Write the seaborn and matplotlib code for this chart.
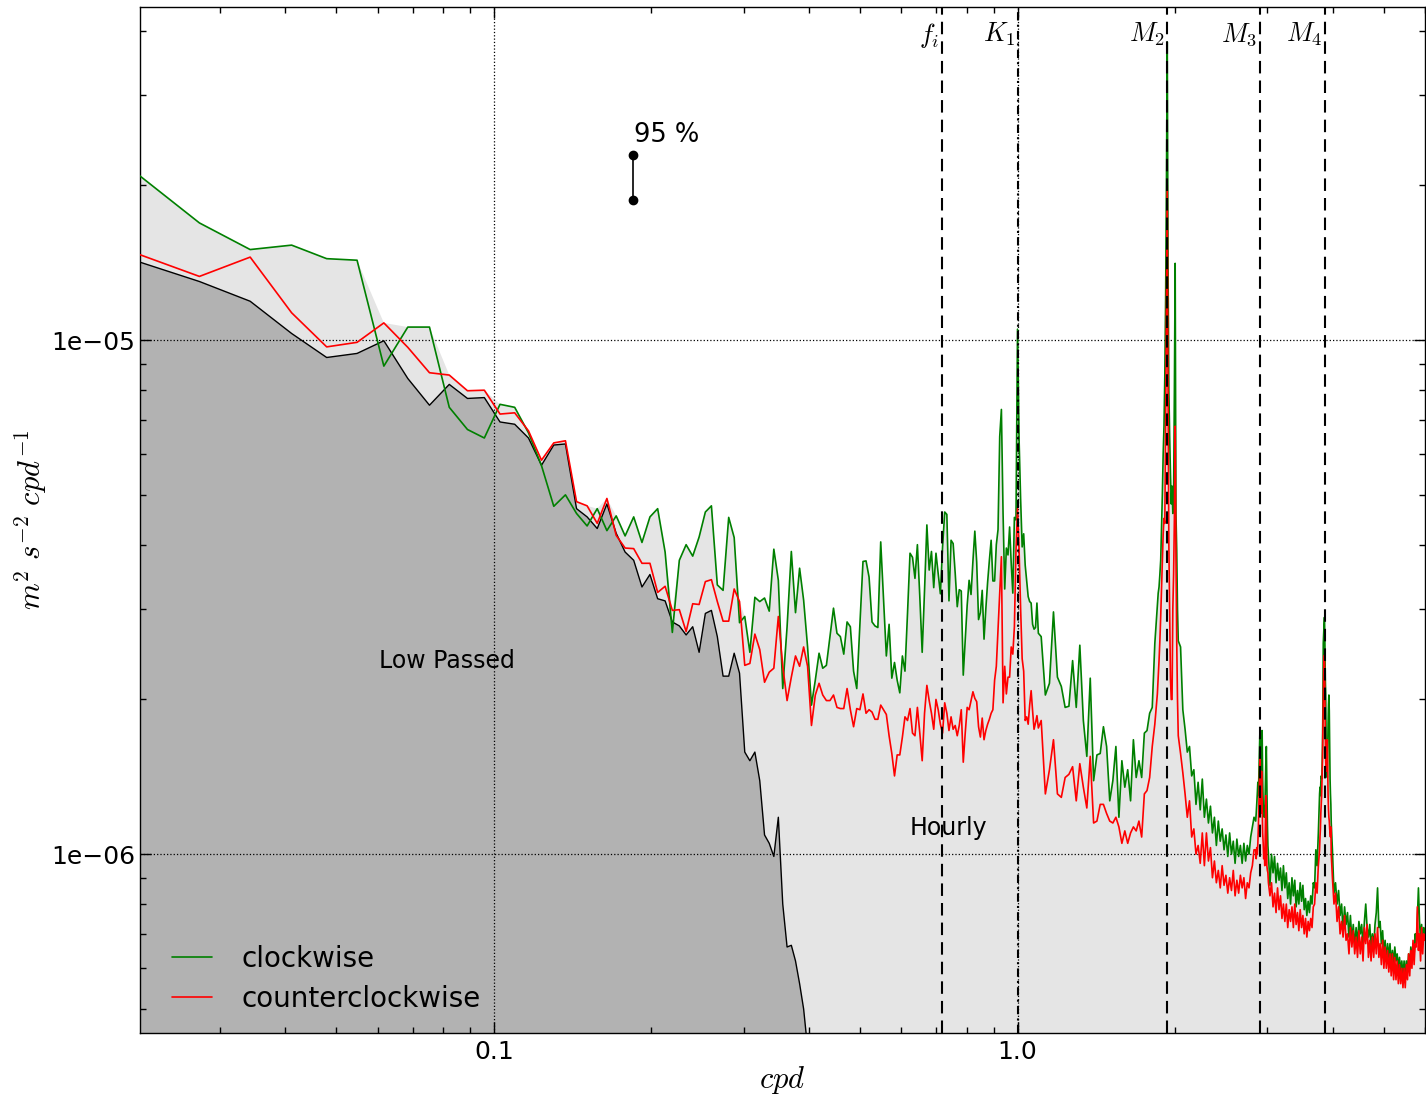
import numpy as np
import matplotlib
matplotlib.use("Agg")
import matplotlib.pyplot as plt
import seaborn as sns
from matplotlib.ticker import FixedLocator, FixedFormatter, LogLocator, NullFormatter

# ---------------- data ----------------
DF = 0.00685  # spectral resolution (cpd)
# frequency index segments (start, stop, step): dense at low freq and around tidal peaks
K_SEGMENTS = [(3, 161, 1), (162, 268, 3), (270, 297, 1), (299, 414, 3),
              (416, 441, 1), (443, 549, 3), (551, 581, 1), (583, 876, 4)]

# clockwise spectrum, units of 1e-6 m^2 s^-2 cpd^-1
cw_seg1 = [21.3, 16.9, 15.0, 15.3, 14.4, 14.3, 8.9, 10.6, 10.6, 7.4,
           6.7, 6.45, 7.5, 7.4, 6.6, 5.7, 4.75, 5.0, 4.6, 4.35,
           4.7, 4.26, 4.55, 4.16, 4.53, 4.04, 4.53, 4.70, 3.87, 2.70,
           3.73, 4.00, 3.80, 4.14, 4.63, 4.76, 3.34, 3.26, 4.52, 4.13,
           2.82, 2.90, 2.47, 3.16, 3.10, 3.15, 2.97, 3.92, 3.41, 2.10,
           2.77, 3.88, 2.95, 3.60, 3.12, 2.53, 1.95, 2.18, 2.46, 2.30,
           2.33, 2.65, 3.01, 2.69, 2.65, 2.45, 2.83, 2.77, 2.27, 2.10,
           2.80, 3.71, 3.72, 3.46, 2.83, 2.78, 2.76, 4.05, 3.12, 2.43,
           2.80, 2.20, 2.36, 2.18, 2.06, 2.43, 2.27, 2.94, 3.85, 3.78,
           3.44, 4.00, 3.17, 2.47, 3.26, 4.37, 3.57, 3.88, 3.30, 3.85,
           3.52, 3.21, 3.96, 4.63, 4.58, 3.11, 4.08, 4.02, 3.52, 3.03,
           3.27, 3.25, 2.23, 2.60, 3.05, 3.41, 3.20, 3.72, 4.25, 3.70,
           2.86, 2.95, 3.26, 2.62, 3.00, 3.38, 3.73, 4.08, 3.40, 3.40,
           4.00, 4.28, 6.49, 7.33, 4.60, 3.28, 3.94, 3.82, 4.33, 3.68,
           3.22, 4.52, 4.47, 10.5, 6.40, 4.90, 3.96, 4.20, 3.65, 3.40,
           3.17, 3.10, 3.08, 2.80, 2.74, 2.76, 3.08, 2.69]
cw_seg2 = [2.65, 2.04, 2.15, 2.96, 2.21, 2.12, 1.93, 1.94, 2.38, 1.93,
           2.55, 1.82, 1.55, 2.20, 1.39, 1.56, 1.57, 1.77, 1.62, 1.27,
           1.39, 1.62, 1.18, 1.52, 1.35, 1.46, 1.27, 1.67, 1.41, 1.52,
           1.41, 1.72, 1.74, 1.88, 1.93, 2.57]
cw_seg3 = [3.03, 3.22, 3.31, 3.5, 3.73, 4.3, 5.0, 6.0, 6.8, 8.5,
           12.0, 20.0, 38.0, 14.0, 8.0, 6.5, 5.5, 4.8, 5.2, 4.6,
           5.0, 8.0, 14.1, 4.6, 3.9, 3.0, 2.6]
cw_seg4 = [2.53, 1.91, 1.75, 1.58, 1.62, 1.42, 1.46, 1.25, 1.38, 1.22,
           1.40, 1.18, 1.28, 1.15, 1.24, 1.10, 1.18, 1.04, 1.16, 1.06,
           1.12, 1.02, 1.09, 0.99, 1.10, 1.00, 1.06, 0.96, 1.07, 0.99,
           1.04, 0.96, 1.05, 0.97, 1.04, 1.00, 1.08, 1.13, 1.18]
cw_seg5 = [1.16, 1.20, 1.25, 1.31, 1.38, 1.30, 1.45, 1.60, 1.76, 1.40,
           1.55, 1.70, 1.74, 1.40, 1.25, 1.22, 1.18, 1.20, 1.35, 1.50,
           1.62, 1.35, 1.15, 1.04, 1.00]
cw_seg6 = [0.87, 1.00, 0.92, 0.99, 0.88, 0.96, 0.89, 0.94, 0.85, 0.95,
           0.86, 0.92, 0.82, 0.88, 0.80, 0.90, 0.83, 0.89, 0.79, 0.85,
           0.80, 0.88, 0.81, 0.87, 0.78, 0.82, 0.76, 0.81, 0.77, 0.83,
           0.80, 0.88, 0.86, 1.02, 0.95, 1.10]
cw_seg7 = [1.31, 1.35, 1.30, 1.38, 1.42, 1.40, 1.44, 1.60, 1.90, 2.57,
           2.70, 2.80, 2.89, 2.60, 2.20, 2.05, 1.70, 1.50, 1.45, 1.41,
           1.60, 1.80, 1.95, 2.04, 1.90, 1.60, 1.40, 1.31, 1.25, 1.15]
cw_seg8 = [1.02, 0.84, 0.88, 0.80, 0.85, 0.76, 0.80, 0.71, 0.79, 0.73,
           0.77, 0.69, 0.76, 0.68, 0.73, 0.66, 0.72, 0.67, 0.74, 0.70,
           0.73, 0.66, 0.74, 0.80, 0.72, 0.69, 0.73, 0.66, 0.70, 0.66,
           0.73, 0.77, 0.86, 0.72, 0.74, 0.67, 0.71, 0.64, 0.68, 0.62,
           0.67, 0.63, 0.67, 0.61, 0.65, 0.61, 0.66, 0.62, 0.64, 0.60,
           0.63, 0.59, 0.62, 0.58, 0.62, 0.58, 0.62, 0.59, 0.64, 0.60,
           0.66, 0.62, 0.67, 0.64, 0.70, 0.67, 0.75, 0.86, 0.74, 0.68,
           0.73, 0.67, 0.72, 0.70]

# counterclockwise spectrum, units of 1e-6
ccw_seg1 = [14.8, 13.3, 14.5, 11.3, 9.70, 9.90, 10.8, 9.68, 8.64, 8.55,
            7.97, 7.99, 7.18, 7.22, 6.66, 5.84, 6.31, 6.37, 4.85, 4.76,
            4.40, 4.92, 4.17, 3.94, 3.93, 3.68, 3.68, 3.23, 3.32, 2.98,
            2.99, 2.71, 3.07, 3.06, 3.39, 3.42, 3.10, 2.84, 2.84, 3.28,
            3.10, 2.33, 2.35, 2.68, 2.50, 2.16, 2.26, 2.30, 2.90, 2.32,
            1.99, 2.21, 2.43, 2.32, 2.53, 2.32, 1.78, 2.04, 2.15, 2.04,
            1.99, 1.99, 2.04, 1.93, 1.92, 1.92, 2.10, 1.91, 1.77, 1.92,
            1.91, 2.05, 1.88, 1.91, 1.89, 1.83, 1.83, 1.95, 1.91, 1.87,
            1.70, 1.57, 1.42, 1.56, 1.56, 1.69, 1.85, 1.82, 1.92, 1.72,
            1.70, 1.93, 1.72, 1.52, 1.88, 2.13, 1.99, 1.88, 1.75, 2.00,
            1.91, 1.79, 1.72, 1.97, 1.88, 1.74, 1.85, 1.75, 1.78, 1.70,
            1.78, 1.91, 1.51, 1.72, 1.93, 1.91, 1.99, 2.07, 2.01, 1.98,
            1.77, 1.69, 1.84, 1.67, 1.74, 1.79, 1.83, 1.88, 1.91, 2.18,
            2.32, 2.73, 3.20, 3.79, 1.97, 2.32, 2.05, 2.21, 2.21, 2.53,
            2.45, 2.77, 3.90, 4.70, 3.90, 3.00, 2.40, 2.27, 1.82, 1.85,
            1.79, 1.95, 2.08, 1.90, 1.75, 1.80, 1.86, 1.76]
ccw_seg2 = [1.82, 1.31, 1.46, 1.67, 1.31, 1.29, 1.41, 1.43, 1.48, 1.27,
            1.50, 1.35, 1.23, 1.55, 1.15, 1.16, 1.25, 1.25, 1.20, 1.16,
            1.15, 1.18, 1.13, 1.05, 1.11, 1.05, 1.10, 1.13, 1.11, 1.16,
            1.08, 1.31, 1.33, 1.41, 1.62, 1.79]
ccw_seg3 = [2.05, 2.2, 2.38, 2.6, 2.9, 3.3, 3.8, 4.2, 4.5, 4.4,
            7.0, 12.0, 20.0, 8.0, 4.0, 3.0, 2.2, 2.0, 2.0, 3.0,
            3.5, 4.5, 6.8, 3.8, 2.6, 2.0, 1.7]
ccw_seg4 = [1.57, 1.44, 1.31, 1.18, 1.27, 1.08, 1.12, 1.00, 1.04, 0.96,
            1.10, 0.95, 1.10, 0.97, 1.03, 0.90, 0.97, 0.88, 0.93, 0.86,
            0.95, 0.87, 0.91, 0.84, 0.90, 0.85, 0.93, 0.83, 0.89, 0.84,
            0.91, 0.86, 0.90, 0.82, 0.88, 0.86, 0.92, 0.95, 1.02]
ccw_seg5 = [1.02, 0.98, 1.03, 1.00, 1.05, 1.13, 1.25, 1.40, 1.59, 1.20,
            1.30, 1.45, 1.27, 1.10, 1.05, 0.98, 1.02, 0.95, 1.10, 1.30,
            1.20, 0.95, 0.93, 0.92, 0.88]
ccw_seg6 = [0.83, 0.88, 0.79, 0.84, 0.77, 0.86, 0.78, 0.83, 0.75, 0.80,
            0.74, 0.80, 0.72, 0.78, 0.74, 0.79, 0.72, 0.80, 0.73, 0.77,
            0.71, 0.78, 0.72, 0.76, 0.70, 0.75, 0.69, 0.74, 0.71, 0.75,
            0.72, 0.79, 0.80, 0.88, 0.84, 0.95]
ccw_seg7 = [1.02, 1.08, 1.12, 1.20, 1.25, 1.30, 1.40, 1.52, 1.75, 2.00,
            2.25, 2.42, 2.44, 2.10, 1.70, 1.52, 1.45, 1.55, 1.62, 1.67,
            1.45, 1.30, 1.22, 1.18, 1.16, 1.12, 1.10, 1.08, 1.13, 1.00]
ccw_seg8 = [0.90, 0.80, 0.84, 0.74, 0.79, 0.70, 0.74, 0.69, 0.76, 0.68,
            0.70, 0.64, 0.72, 0.66, 0.71, 0.64, 0.69, 0.63, 0.71, 0.64,
            0.69, 0.62, 0.72, 0.67, 0.73, 0.63, 0.68, 0.62, 0.69, 0.63,
            0.70, 0.64, 0.72, 0.63, 0.67, 0.61, 0.68, 0.60, 0.66, 0.60,
            0.65, 0.59, 0.64, 0.58, 0.64, 0.57, 0.63, 0.57, 0.62, 0.56,
            0.61, 0.56, 0.60, 0.55, 0.60, 0.55, 0.61, 0.57, 0.64, 0.58,
            0.65, 0.60, 0.68, 0.61, 0.67, 0.66, 0.79, 0.65, 0.70, 0.62,
            0.72, 0.64, 0.70, 0.68]

# low-passed spectrum (k = 3 .. 60), units of 1e-6
lp_psd = [14.3, 13.0, 11.9, 10.3, 9.25, 9.42, 9.97, 8.42, 7.47, 8.20,
          7.70, 7.73, 6.93, 6.86, 6.45, 5.71, 6.25, 6.28, 4.70, 4.53,
          4.30, 4.80, 4.21, 3.87, 3.73, 3.31, 3.50, 3.14, 3.11, 2.83,
          2.78, 2.67, 2.77, 2.47, 2.94, 2.98, 2.65, 2.22, 2.22, 2.46,
          2.25, 1.58, 1.52, 1.58, 1.39, 1.09, 1.05, 0.99, 1.18, 0.80,
          0.66, 0.665, 0.62, 0.56, 0.50, 0.42, 0.35, 0.30]
LP_K = (3, 61)

# tidal / inertial frequencies (cpd)
line_freqs = [0.719, 1.0027, 1.9323, 2.8984, 3.8645]
line_labels = [r"$f_i$", r"$K_1$", r"$M_2$", r"$M_3$", r"$M_4$"]
line_styles = [(0, (6, 3.4)), (0, (4, 2, 1, 2)), (0, (6, 3.4)), (0, (6, 3.4)), (0, (6, 3.4))]

# 95 % confidence bar
ci_freq = 0.1841
ci_low, ci_high = 1.87e-5, 2.29e-5

# ---------------- assemble ----------------
k_all = np.concatenate([np.arange(a, b, s) for a, b, s in K_SEGMENTS])
freq = k_all * DF
cw = np.array(cw_seg1 + cw_seg2 + cw_seg3 + cw_seg4 + cw_seg5 + cw_seg6 + cw_seg7 + cw_seg8) * 1e-6
ccw = np.array(ccw_seg1 + ccw_seg2 + ccw_seg3 + ccw_seg4 + ccw_seg5 + ccw_seg6 + ccw_seg7 + ccw_seg8) * 1e-6
freq_lp = np.arange(*LP_K) * DF
lp = np.array(lp_psd) * 1e-6
hourly = np.maximum(cw, ccw)

# ---------------- plot ----------------
sns.set_style("ticks")
plt.rcParams["font.family"] = ["DejaVu Sans"]
plt.rcParams["mathtext.fontset"] = "cm"
for key in ["text.color", "axes.labelcolor", "xtick.color", "ytick.color", "axes.edgecolor"]:
    plt.rcParams[key] = "black"

fig = plt.figure(figsize=(14.26, 11.0), dpi=100)
ax = fig.add_axes([140 / 1426, 67 / 1100, 1285 / 1426, 1026 / 1100])
ax.set_xscale("log")
ax.set_yscale("log")

ax.fill_between(freq, hourly, 1e-9, color="#e5e5e5", lw=0, zorder=1)
ax.fill_between(freq_lp, lp, 1e-9, color="#b2b2b2", lw=0, zorder=1.2)

sns.lineplot(x=freq, y=cw, ax=ax, color="green", lw=1.2, estimator=None, sort=False,
             label="clockwise", zorder=4)
sns.lineplot(x=freq, y=ccw, ax=ax, color="red", lw=1.2, estimator=None, sort=False,
             label="counterclockwise", zorder=4.5)
sns.lineplot(x=freq_lp, y=lp, ax=ax, color="black", lw=1.0, estimator=None, sort=False,
             legend=False, zorder=3.5)

for f, lab, ls in zip(line_freqs, line_labels, line_styles):
    ax.axvline(f, color="black", lw=1.5, ls=ls, zorder=5)
    ax.annotate(lab, xy=(f, 1.0), xycoords=("data", "axes fraction"),
                xytext=(-2, -10), textcoords="offset points",
                ha="right", va="top", fontsize=19, color="black")

ax.plot([ci_freq, ci_freq], [ci_low, ci_high], color="black", lw=1.2,
        marker="o", ms=6, zorder=6)
ax.text(0.185, 2.43e-5, "95 %", fontsize=18.5, ha="left", va="baseline", color="black")
ax.text(0.0603, 2.30e-6, "Low Passed", fontsize=17, ha="left", va="baseline", color="black")
ax.text(0.622, 1.09e-6, "Hourly", fontsize=17, ha="left", va="baseline", color="black")

ax.set_xlim(0.0211, 6.0)
ax.set_ylim(4.49e-7, 4.445e-5)

ax.xaxis.set_major_locator(FixedLocator([0.1, 1.0]))
ax.xaxis.set_major_formatter(FixedFormatter(["0.1", "1.0"]))
ax.xaxis.set_minor_locator(LogLocator(base=10, subs=np.arange(2, 10)))
ax.xaxis.set_minor_formatter(NullFormatter())
ax.yaxis.set_major_locator(FixedLocator([1e-6, 1e-5]))
ax.yaxis.set_major_formatter(FixedFormatter(["1e\u221206", "1e\u221205"]))
ax.yaxis.set_minor_locator(LogLocator(base=10, subs=np.arange(2, 10)))
ax.yaxis.set_minor_formatter(NullFormatter())

ax.tick_params(which="both", direction="in", top=True, right=True, colors="black")
ax.tick_params(which="major", length=8, width=1, labelsize=18)
ax.tick_params(axis="x", which="major", pad=5)
ax.tick_params(axis="y", which="major", pad=3.5)
ax.tick_params(which="minor", length=4, width=1)
ax.grid(True, which="major", ls=":", color="black", lw=0.9)
ax.set_axisbelow(False)
for s in ax.spines.values():
    s.set_color("black")
    s.set_linewidth(1.0)

ax.set_xlabel(r"$cpd$", fontsize=22, color="black")
ax.set_ylabel(r"$m^2\ s^{-2}\ cpd^{-1}$", fontsize=22, color="black")
ax.xaxis.set_label_coords(0.5, -0.03)
ax.yaxis.set_label_coords(-0.071, 0.5)

handles, labels = ax.get_legend_handles_labels()
leg = ax.legend(handles[:2], labels[:2], loc="lower left", bbox_to_anchor=(0.0163, 0.0088),
                borderaxespad=0, frameon=False, fontsize=20,
                handlelength=1.44, handletextpad=1.05, labelspacing=0.42)
for t in leg.get_texts():
    t.set_color("black")

fig.savefig("out.png", dpi=100)
